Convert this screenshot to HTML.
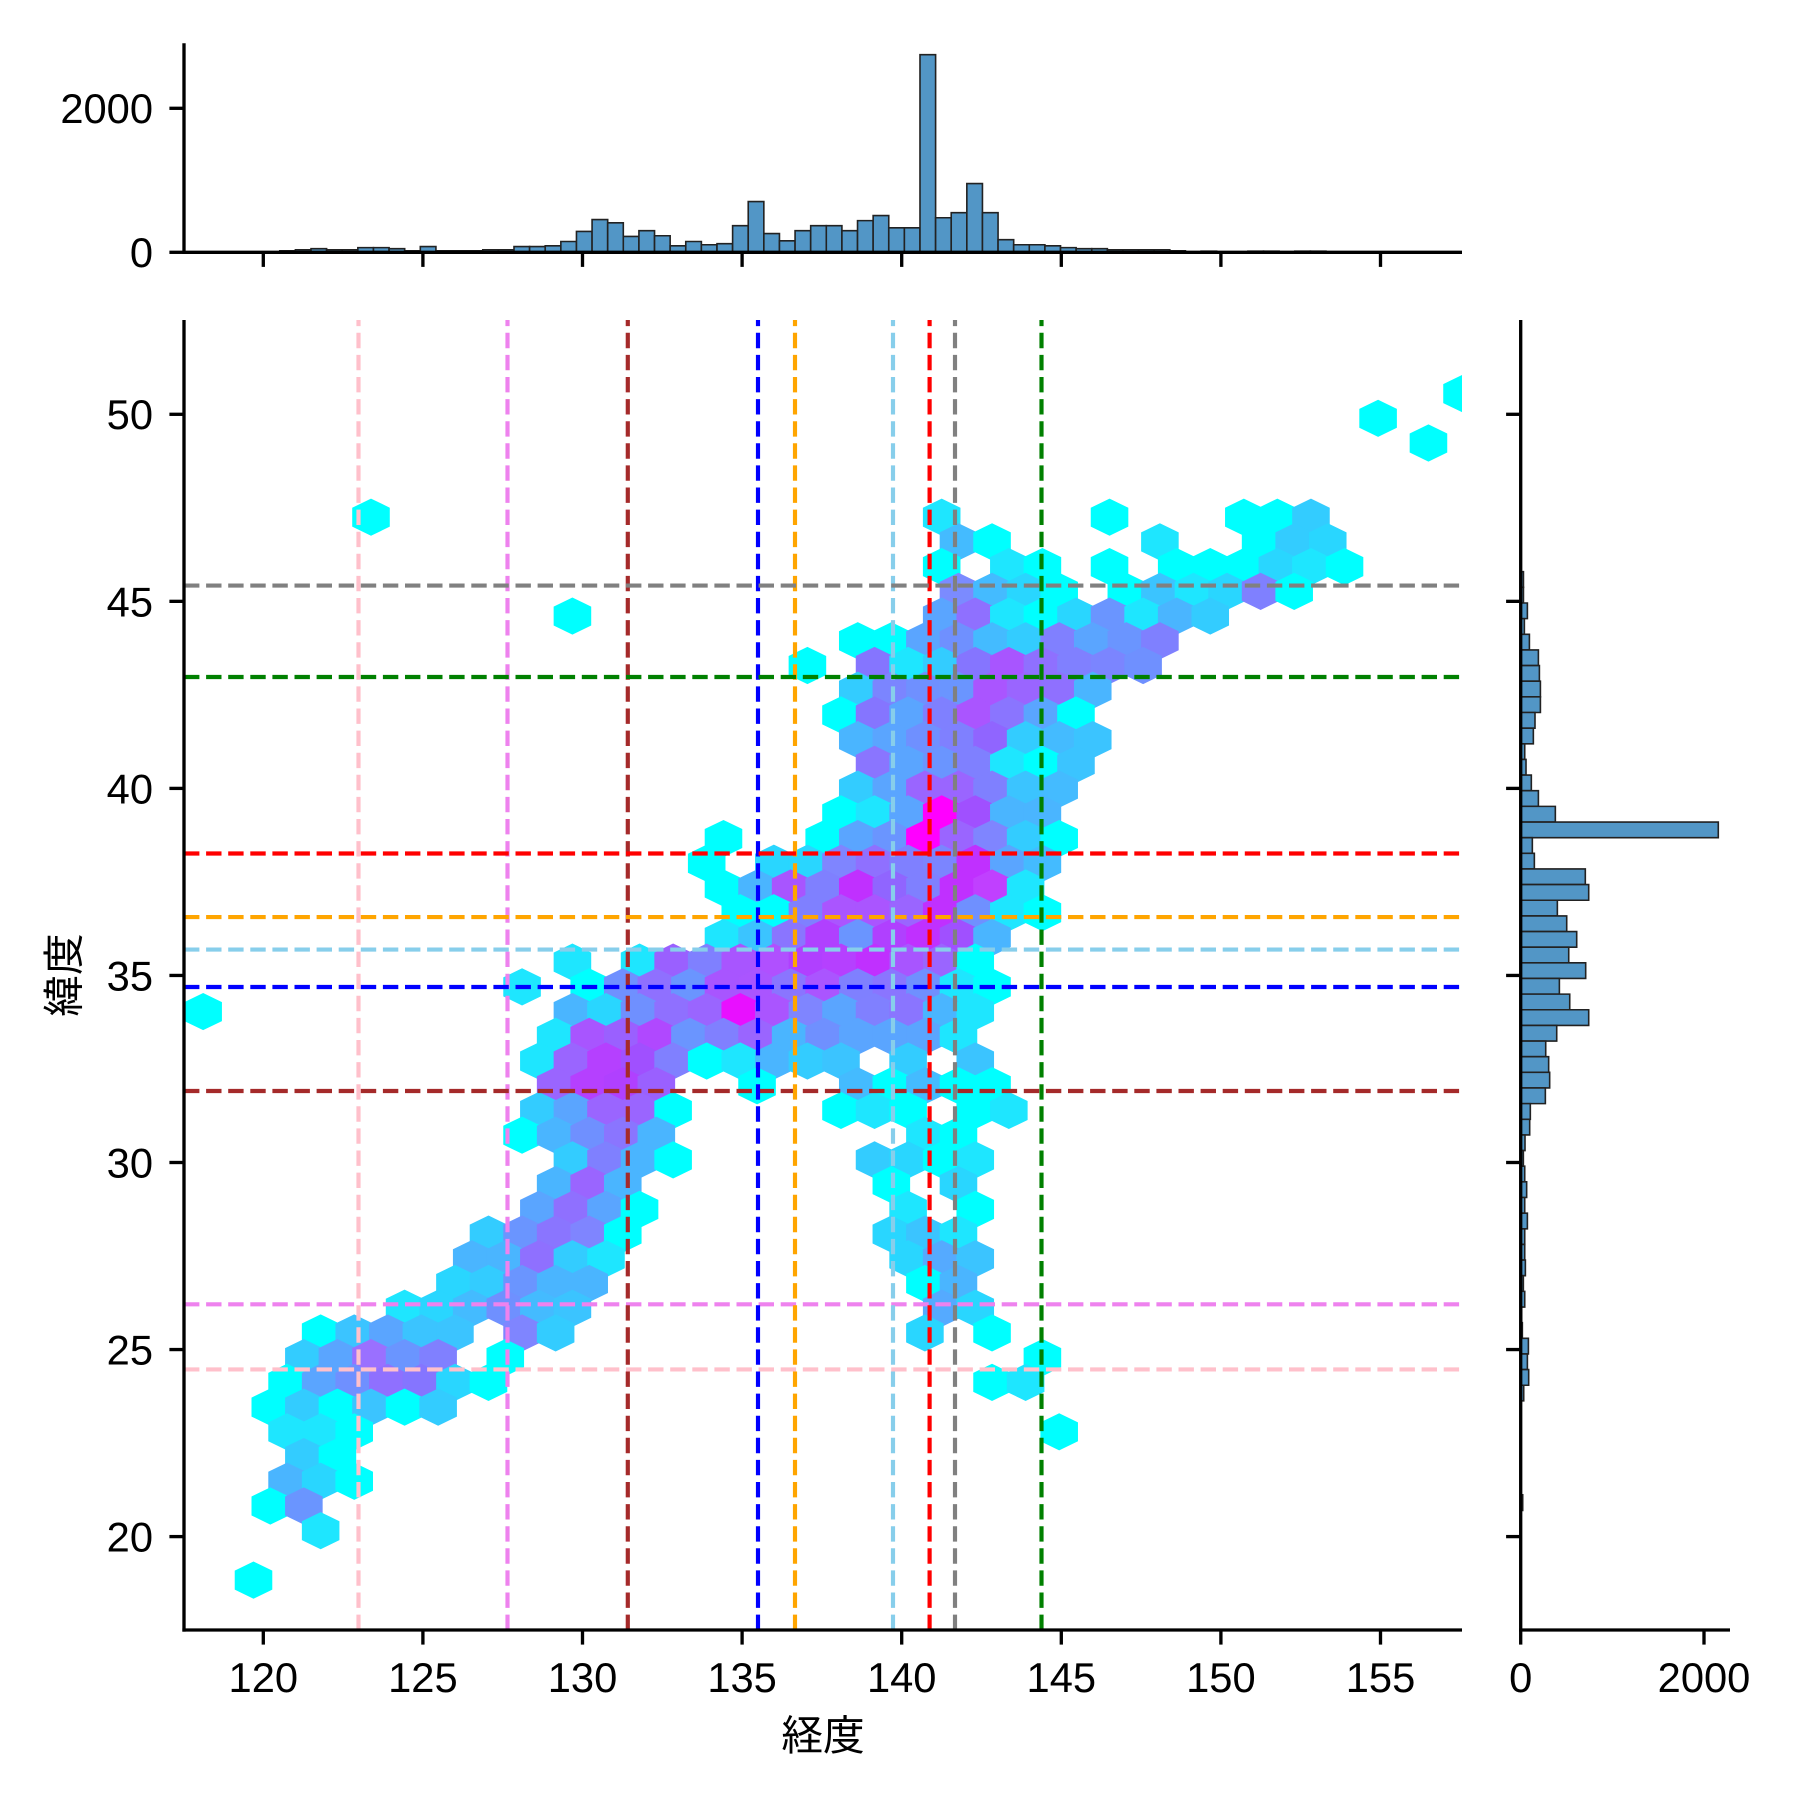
<!DOCTYPE html>
<html><head><meta charset="utf-8">
<style>
html,body{margin:0;padding:0;background:#fff}
svg{display:block}
text{font-family:"Liberation Sans","Noto Sans CJK JP",sans-serif;font-size:41.67px;fill:#000}
.hb rect{fill:#5296c6;stroke:#222;stroke-width:1.6px;vector-effect:non-scaling-stroke}
</style></head>
<body>
<svg width="1800" height="1800" viewBox="0 0 1800 1800" xmlns="http://www.w3.org/2000/svg">
<defs>
<polygon id="h" points="0,-0.7524 1.1192,-0.3837 1.1192,0.3837 0,0.7524 -1.1192,0.3837 -1.1192,-0.3837"/>
<clipPath id="cj"><rect x="184" y="320" width="1278" height="1310"/></clipPath>
</defs>
<rect width="1800" height="1800" fill="#fff"/>

<!-- HEXBIN -->
<g clip-path="url(#cj)"><g transform="translate(1378.1 418.3) scale(16.785 24.72)">
<use href="#h" x="5" y="-1" fill="#00ffff"/>
<use href="#h" x="0" y="0" fill="#00ffff"/>
<use href="#h" x="3" y="1" fill="#00ffff"/>
<!-- j4 -->
<use href="#h" x="-60" y="4" fill="#00ffff"/><use href="#h" x="-26" y="4" fill="#1ee6ff"/><use href="#h" x="-16" y="4" fill="#00ffff"/><use href="#h" x="-8" y="4" fill="#00ffff"/><use href="#h" x="-6" y="4" fill="#00ffff"/><use href="#h" x="-4" y="4" fill="#33ccff"/>
<!-- j5 -->
<use href="#h" x="-25" y="5" fill="#44bbff"/><use href="#h" x="-23" y="5" fill="#00ffff"/><use href="#h" x="-13" y="5" fill="#1ee6ff"/><use href="#h" x="-7" y="5" fill="#00ffff"/><use href="#h" x="-5" y="5" fill="#33ccff"/><use href="#h" x="-3" y="5" fill="#29d6ff"/>
<!-- j6 -->
<use href="#h" x="-26" y="6" fill="#00ffff"/><use href="#h" x="-22" y="6" fill="#1ee6ff"/><use href="#h" x="-20" y="6" fill="#00ffff"/><use href="#h" x="-16" y="6" fill="#00ffff"/><use href="#h" x="-12" y="6" fill="#00ffff"/><use href="#h" x="-10" y="6" fill="#00ffff"/><use href="#h" x="-8" y="6" fill="#00ffff"/><use href="#h" x="-6" y="6" fill="#29d6ff"/><use href="#h" x="-4" y="6" fill="#1ee6ff"/><use href="#h" x="-2" y="6" fill="#00ffff"/>
<!-- j7 -->
<use href="#h" x="-25" y="7" fill="#7b8bff"/><use href="#h" x="-23" y="7" fill="#44bbff"/><use href="#h" x="-21" y="7" fill="#29d6ff"/><use href="#h" x="-19" y="7" fill="#00ffff"/><use href="#h" x="-15" y="7" fill="#00ffff"/><use href="#h" x="-13" y="7" fill="#3bc4ff"/><use href="#h" x="-11" y="7" fill="#1ee6ff"/><use href="#h" x="-9" y="7" fill="#29d6ff"/><use href="#h" x="-7" y="7" fill="#7f80ff"/><use href="#h" x="-5" y="7" fill="#00ffff"/>
<!-- j8 -->
<use href="#h" x="-48" y="8" fill="#00ffff"/><use href="#h" x="-26" y="8" fill="#5aa5ff"/><use href="#h" x="-24" y="8" fill="#8f70ff"/><use href="#h" x="-22" y="8" fill="#1ee6ff"/><use href="#h" x="-20" y="8" fill="#00ffff"/><use href="#h" x="-18" y="8" fill="#29d6ff"/><use href="#h" x="-16" y="8" fill="#6a95ff"/><use href="#h" x="-14" y="8" fill="#1ee6ff"/><use href="#h" x="-12" y="8" fill="#4ab5ff"/><use href="#h" x="-10" y="8" fill="#33ccff"/>
<!-- j9 -->
<use href="#h" x="-31" y="9" fill="#00ffff"/><use href="#h" x="-29" y="9" fill="#00ffff"/><use href="#h" x="-27" y="9" fill="#5aa5ff"/><use href="#h" x="-25" y="9" fill="#6f90ff"/><use href="#h" x="-23" y="9" fill="#44bbff"/><use href="#h" x="-21" y="9" fill="#33ccff"/><use href="#h" x="-19" y="9" fill="#8080ff"/><use href="#h" x="-17" y="9" fill="#5aa5ff"/><use href="#h" x="-15" y="9" fill="#6a95ff"/><use href="#h" x="-13" y="9" fill="#7f80ff"/>
<!-- j10 -->
<use href="#h" x="-34" y="10" fill="#00ffff"/><use href="#h" x="-30" y="10" fill="#8575ff"/><use href="#h" x="-28" y="10" fill="#1ee6ff"/><use href="#h" x="-26" y="10" fill="#33ccff"/><use href="#h" x="-24" y="10" fill="#8575ff"/><use href="#h" x="-22" y="10" fill="#a855ff"/><use href="#h" x="-20" y="10" fill="#8f70ff"/><use href="#h" x="-18" y="10" fill="#8080ff"/><use href="#h" x="-16" y="10" fill="#7b85ff"/><use href="#h" x="-14" y="10" fill="#6f90ff"/>
<!-- j11 -->
<use href="#h" x="-31" y="11" fill="#33ccff"/><use href="#h" x="-29" y="11" fill="#7b85ff"/><use href="#h" x="-27" y="11" fill="#6f90ff"/><use href="#h" x="-25" y="11" fill="#6a95ff"/><use href="#h" x="-23" y="11" fill="#aa55ff"/><use href="#h" x="-21" y="11" fill="#9a65ff"/><use href="#h" x="-19" y="11" fill="#8f70ff"/><use href="#h" x="-17" y="11" fill="#4ab5ff"/>
<!-- j12 -->
<use href="#h" x="-32" y="12" fill="#00ffff"/><use href="#h" x="-30" y="12" fill="#8575ff"/><use href="#h" x="-28" y="12" fill="#5aa5ff"/><use href="#h" x="-26" y="12" fill="#7f80ff"/><use href="#h" x="-24" y="12" fill="#aa55ff"/><use href="#h" x="-22" y="12" fill="#8a75ff"/><use href="#h" x="-20" y="12" fill="#5aa5ff"/><use href="#h" x="-18" y="12" fill="#00ffff"/>
<!-- j13 -->
<use href="#h" x="-31" y="13" fill="#4ab5ff"/><use href="#h" x="-29" y="13" fill="#5aa5ff"/><use href="#h" x="-27" y="13" fill="#6f90ff"/><use href="#h" x="-25" y="13" fill="#7f80ff"/><use href="#h" x="-23" y="13" fill="#9065ff"/><use href="#h" x="-21" y="13" fill="#33ccff"/><use href="#h" x="-19" y="13" fill="#44bbff"/><use href="#h" x="-17" y="13" fill="#3bc4ff"/>
<!-- j14 -->
<use href="#h" x="-30" y="14" fill="#8a75ff"/><use href="#h" x="-28" y="14" fill="#5aa5ff"/><use href="#h" x="-26" y="14" fill="#6a95ff"/><use href="#h" x="-24" y="14" fill="#7f80ff"/><use href="#h" x="-22" y="14" fill="#1ee6ff"/><use href="#h" x="-20" y="14" fill="#00ffff"/><use href="#h" x="-18" y="14" fill="#3bc4ff"/>
<!-- j15 -->
<use href="#h" x="-31" y="15" fill="#33ccff"/><use href="#h" x="-29" y="15" fill="#5aa5ff"/><use href="#h" x="-27" y="15" fill="#9a65ff"/><use href="#h" x="-25" y="15" fill="#9a65ff"/><use href="#h" x="-23" y="15" fill="#7f80ff"/><use href="#h" x="-21" y="15" fill="#3bc4ff"/><use href="#h" x="-19" y="15" fill="#44bbff"/>
<!-- j16 -->
<use href="#h" x="-32" y="16" fill="#00ffff"/><use href="#h" x="-30" y="16" fill="#1ee6ff"/><use href="#h" x="-28" y="16" fill="#5aa5ff"/><use href="#h" x="-26" y="16" fill="#ff00ff"/><use href="#h" x="-24" y="16" fill="#a050ff"/><use href="#h" x="-22" y="16" fill="#4ab5ff"/><use href="#h" x="-20" y="16" fill="#4ab5ff"/>
<!-- j17 -->
<use href="#h" x="-39" y="17" fill="#00ffff"/><use href="#h" x="-33" y="17" fill="#00ffff"/><use href="#h" x="-31" y="17" fill="#5aa5ff"/><use href="#h" x="-29" y="17" fill="#6a95ff"/><use href="#h" x="-27" y="17" fill="#ff00ff"/><use href="#h" x="-25" y="17" fill="#9a65ff"/><use href="#h" x="-23" y="17" fill="#7f85ff"/><use href="#h" x="-21" y="17" fill="#33ccff"/><use href="#h" x="-19" y="17" fill="#00ffff"/>
<!-- j18 -->
<use href="#h" x="-40" y="18" fill="#00ffff"/><use href="#h" x="-36" y="18" fill="#29d6ff"/><use href="#h" x="-34" y="18" fill="#29d6ff"/><use href="#h" x="-32" y="18" fill="#7f85ff"/><use href="#h" x="-30" y="18" fill="#8f70ff"/><use href="#h" x="-28" y="18" fill="#7f80ff"/><use href="#h" x="-26" y="18" fill="#7b85ff"/><use href="#h" x="-24" y="18" fill="#c030ff"/><use href="#h" x="-22" y="18" fill="#5aa5ff"/><use href="#h" x="-20" y="18" fill="#44bbff"/>
<!-- j19 -->
<use href="#h" x="-39" y="19" fill="#00ffff"/><use href="#h" x="-37" y="19" fill="#4ab5ff"/><use href="#h" x="-35" y="19" fill="#a855ff"/><use href="#h" x="-33" y="19" fill="#7f80ff"/><use href="#h" x="-31" y="19" fill="#c030ff"/><use href="#h" x="-29" y="19" fill="#9065ff"/><use href="#h" x="-27" y="19" fill="#7f80ff"/><use href="#h" x="-25" y="19" fill="#c030ff"/><use href="#h" x="-23" y="19" fill="#c040ff"/><use href="#h" x="-21" y="19" fill="#1ee6ff"/>
<!-- j20 -->
<use href="#h" x="-38" y="20" fill="#00ffff"/><use href="#h" x="-36" y="20" fill="#00ffff"/><use href="#h" x="-34" y="20" fill="#7f80ff"/><use href="#h" x="-32" y="20" fill="#aa55ff"/><use href="#h" x="-30" y="20" fill="#aa55ff"/><use href="#h" x="-28" y="20" fill="#9a65ff"/><use href="#h" x="-26" y="20" fill="#c030ff"/><use href="#h" x="-24" y="20" fill="#6f90ff"/><use href="#h" x="-22" y="20" fill="#1ee6ff"/><use href="#h" x="-20" y="20" fill="#00ffff"/>
<!-- j21 -->
<use href="#h" x="-39" y="21" fill="#1ee6ff"/><use href="#h" x="-37" y="21" fill="#3bc4ff"/><use href="#h" x="-35" y="21" fill="#8a75ff"/><use href="#h" x="-33" y="21" fill="#b040ff"/><use href="#h" x="-31" y="21" fill="#6a95ff"/><use href="#h" x="-29" y="21" fill="#b040ff"/><use href="#h" x="-27" y="21" fill="#c030ff"/><use href="#h" x="-25" y="21" fill="#a050ff"/><use href="#h" x="-23" y="21" fill="#4ab5ff"/>
<!-- j22 -->
<use href="#h" x="-48" y="22" fill="#1ee6ff"/><use href="#h" x="-44" y="22" fill="#1ee6ff"/><use href="#h" x="-42" y="22" fill="#9a60ff"/><use href="#h" x="-40" y="22" fill="#7f80ff"/><use href="#h" x="-38" y="22" fill="#a855ff"/><use href="#h" x="-36" y="22" fill="#b050ff"/><use href="#h" x="-34" y="22" fill="#b040ff"/><use href="#h" x="-32" y="22" fill="#b540ff"/><use href="#h" x="-30" y="22" fill="#c030ff"/><use href="#h" x="-28" y="22" fill="#a855ff"/><use href="#h" x="-26" y="22" fill="#9a65ff"/><use href="#h" x="-24" y="22" fill="#00ffff"/>
<!-- j23 -->
<use href="#h" x="-51" y="23" fill="#1ee6ff"/><use href="#h" x="-47" y="23" fill="#00ffff"/><use href="#h" x="-45" y="23" fill="#6f90ff"/><use href="#h" x="-43" y="23" fill="#8f70ff"/><use href="#h" x="-41" y="23" fill="#6a95ff"/><use href="#h" x="-39" y="23" fill="#a855ff"/><use href="#h" x="-37" y="23" fill="#aa55ff"/><use href="#h" x="-35" y="23" fill="#8a75ff"/><use href="#h" x="-33" y="23" fill="#aa55ff"/><use href="#h" x="-31" y="23" fill="#7f80ff"/><use href="#h" x="-29" y="23" fill="#8a75ff"/><use href="#h" x="-27" y="23" fill="#6f90ff"/><use href="#h" x="-25" y="23" fill="#1ee6ff"/><use href="#h" x="-23" y="23" fill="#00ffff"/>
<!-- j24 -->
<use href="#h" x="-70" y="24" fill="#00ffff"/><use href="#h" x="-48" y="24" fill="#4ab5ff"/><use href="#h" x="-46" y="24" fill="#29d6ff"/><use href="#h" x="-44" y="24" fill="#6f90ff"/><use href="#h" x="-42" y="24" fill="#8f70ff"/><use href="#h" x="-40" y="24" fill="#9a65ff"/><use href="#h" x="-38" y="24" fill="#e810ff"/><use href="#h" x="-36" y="24" fill="#aa55ff"/><use href="#h" x="-34" y="24" fill="#7f85ff"/><use href="#h" x="-32" y="24" fill="#5aa5ff"/><use href="#h" x="-30" y="24" fill="#8080ff"/><use href="#h" x="-28" y="24" fill="#8a75ff"/><use href="#h" x="-26" y="24" fill="#4ab5ff"/><use href="#h" x="-24" y="24" fill="#1ee6ff"/>
<!-- j25 -->
<use href="#h" x="-49" y="25" fill="#1ee6ff"/><use href="#h" x="-47" y="25" fill="#a855ff"/><use href="#h" x="-45" y="25" fill="#9a60ff"/><use href="#h" x="-43" y="25" fill="#b048ff"/><use href="#h" x="-41" y="25" fill="#6a95ff"/><use href="#h" x="-39" y="25" fill="#8080ff"/><use href="#h" x="-37" y="25" fill="#9a65ff"/><use href="#h" x="-35" y="25" fill="#4ab5ff"/><use href="#h" x="-33" y="25" fill="#6f90ff"/><use href="#h" x="-31" y="25" fill="#5aa5ff"/><use href="#h" x="-29" y="25" fill="#5aa5ff"/><use href="#h" x="-27" y="25" fill="#5aa5ff"/><use href="#h" x="-25" y="25" fill="#1ee6ff"/>
<!-- j26 -->
<use href="#h" x="-50" y="26" fill="#1ee6ff"/><use href="#h" x="-48" y="26" fill="#9a65ff"/><use href="#h" x="-46" y="26" fill="#b540ff"/><use href="#h" x="-44" y="26" fill="#a050ff"/><use href="#h" x="-42" y="26" fill="#8080ff"/><use href="#h" x="-40" y="26" fill="#00ffff"/><use href="#h" x="-38" y="26" fill="#1ee6ff"/><use href="#h" x="-36" y="26" fill="#4ab5ff"/><use href="#h" x="-34" y="26" fill="#33ccff"/><use href="#h" x="-32" y="26" fill="#3bc4ff"/><use href="#h" x="-28" y="26" fill="#33ccff"/><use href="#h" x="-24" y="26" fill="#3bc4ff"/>
<!-- j27 -->
<use href="#h" x="-49" y="27" fill="#9a65ff"/><use href="#h" x="-47" y="27" fill="#b540ff"/><use href="#h" x="-45" y="27" fill="#b040ff"/><use href="#h" x="-43" y="27" fill="#9a60ff"/><use href="#h" x="-37" y="27" fill="#00ffff"/><use href="#h" x="-31" y="27" fill="#44bbff"/><use href="#h" x="-29" y="27" fill="#00ffff"/><use href="#h" x="-27" y="27" fill="#44bbff"/><use href="#h" x="-25" y="27" fill="#00ffff"/><use href="#h" x="-23" y="27" fill="#00ffff"/>
<!-- j28 -->
<use href="#h" x="-50" y="28" fill="#33ccff"/><use href="#h" x="-48" y="28" fill="#5aa5ff"/><use href="#h" x="-46" y="28" fill="#9a65ff"/><use href="#h" x="-44" y="28" fill="#9a65ff"/><use href="#h" x="-42" y="28" fill="#00ffff"/><use href="#h" x="-32" y="28" fill="#00ffff"/><use href="#h" x="-30" y="28" fill="#1ee6ff"/><use href="#h" x="-28" y="28" fill="#00ffff"/><use href="#h" x="-24" y="28" fill="#00ffff"/><use href="#h" x="-22" y="28" fill="#1ee6ff"/>
<!-- j29 -->
<use href="#h" x="-51" y="29" fill="#00ffff"/><use href="#h" x="-49" y="29" fill="#4ab5ff"/><use href="#h" x="-47" y="29" fill="#6f90ff"/><use href="#h" x="-45" y="29" fill="#8a75ff"/><use href="#h" x="-43" y="29" fill="#4ab5ff"/><use href="#h" x="-27" y="29" fill="#1ee6ff"/><use href="#h" x="-25" y="29" fill="#00ffff"/>
<!-- j30 -->
<use href="#h" x="-48" y="30" fill="#33ccff"/><use href="#h" x="-46" y="30" fill="#7f80ff"/><use href="#h" x="-44" y="30" fill="#4ab5ff"/><use href="#h" x="-42" y="30" fill="#00ffff"/><use href="#h" x="-30" y="30" fill="#33ccff"/><use href="#h" x="-28" y="30" fill="#29d6ff"/><use href="#h" x="-26" y="30" fill="#00ffff"/><use href="#h" x="-24" y="30" fill="#1ee6ff"/>
<!-- j31 -->
<use href="#h" x="-49" y="31" fill="#4ab5ff"/><use href="#h" x="-47" y="31" fill="#9a65ff"/><use href="#h" x="-45" y="31" fill="#4ab5ff"/><use href="#h" x="-29" y="31" fill="#00ffff"/><use href="#h" x="-25" y="31" fill="#29d6ff"/>
<!-- j32 -->
<use href="#h" x="-50" y="32" fill="#5aa5ff"/><use href="#h" x="-48" y="32" fill="#8f70ff"/><use href="#h" x="-46" y="32" fill="#5aa5ff"/><use href="#h" x="-44" y="32" fill="#00ffff"/><use href="#h" x="-28" y="32" fill="#1ee6ff"/><use href="#h" x="-24" y="32" fill="#00ffff"/>
<!-- j33 -->
<use href="#h" x="-53" y="33" fill="#33ccff"/><use href="#h" x="-51" y="33" fill="#6a95ff"/><use href="#h" x="-49" y="33" fill="#8a75ff"/><use href="#h" x="-47" y="33" fill="#7f85ff"/><use href="#h" x="-45" y="33" fill="#00ffff"/><use href="#h" x="-29" y="33" fill="#29d6ff"/><use href="#h" x="-27" y="33" fill="#3bc4ff"/><use href="#h" x="-25" y="33" fill="#1ee6ff"/>
<!-- j34 -->
<use href="#h" x="-54" y="34" fill="#4ab5ff"/><use href="#h" x="-52" y="34" fill="#4ab5ff"/><use href="#h" x="-50" y="34" fill="#8f70ff"/><use href="#h" x="-48" y="34" fill="#33ccff"/><use href="#h" x="-46" y="34" fill="#1ee6ff"/><use href="#h" x="-28" y="34" fill="#29d6ff"/><use href="#h" x="-26" y="34" fill="#55aaff"/><use href="#h" x="-24" y="34" fill="#3bc4ff"/>
<!-- j35 -->
<use href="#h" x="-55" y="35" fill="#29d6ff"/><use href="#h" x="-53" y="35" fill="#33ccff"/><use href="#h" x="-51" y="35" fill="#6a95ff"/><use href="#h" x="-49" y="35" fill="#4ab5ff"/><use href="#h" x="-47" y="35" fill="#4ab5ff"/><use href="#h" x="-27" y="35" fill="#00ffff"/><use href="#h" x="-25" y="35" fill="#4ab5ff"/>
<!-- j36 -->
<use href="#h" x="-58" y="36" fill="#1ee6ff"/><use href="#h" x="-56" y="36" fill="#29d6ff"/><use href="#h" x="-54" y="36" fill="#44bbff"/><use href="#h" x="-52" y="36" fill="#6f90ff"/><use href="#h" x="-50" y="36" fill="#44bbff"/><use href="#h" x="-48" y="36" fill="#3bc4ff"/><use href="#h" x="-26" y="36" fill="#55aaff"/><use href="#h" x="-24" y="36" fill="#29d6ff"/>
<!-- j37 -->
<use href="#h" x="-63" y="37" fill="#00ffff"/><use href="#h" x="-61" y="37" fill="#3bc4ff"/><use href="#h" x="-59" y="37" fill="#5aa5ff"/><use href="#h" x="-57" y="37" fill="#3bc4ff"/><use href="#h" x="-55" y="37" fill="#3bc4ff"/><use href="#h" x="-51" y="37" fill="#7f85ff"/><use href="#h" x="-49" y="37" fill="#33ccff"/><use href="#h" x="-27" y="37" fill="#29d6ff"/><use href="#h" x="-23" y="37" fill="#00ffff"/>
<!-- j38 -->
<use href="#h" x="-64" y="38" fill="#33ccff"/><use href="#h" x="-62" y="38" fill="#5aa5ff"/><use href="#h" x="-60" y="38" fill="#9a70ff"/><use href="#h" x="-58" y="38" fill="#6a95ff"/><use href="#h" x="-56" y="38" fill="#8080ff"/><use href="#h" x="-52" y="38" fill="#00ffff"/><use href="#h" x="-20" y="38" fill="#00ffff"/>
<!-- j39 -->
<use href="#h" x="-65" y="39" fill="#00ffff"/><use href="#h" x="-63" y="39" fill="#5aa5ff"/><use href="#h" x="-61" y="39" fill="#6f90ff"/><use href="#h" x="-59" y="39" fill="#8f70ff"/><use href="#h" x="-57" y="39" fill="#8575ff"/><use href="#h" x="-55" y="39" fill="#29d6ff"/><use href="#h" x="-53" y="39" fill="#00ffff"/><use href="#h" x="-23" y="39" fill="#00ffff"/><use href="#h" x="-21" y="39" fill="#1ee6ff"/>
<!-- j40 -->
<use href="#h" x="-66" y="40" fill="#00ffff"/><use href="#h" x="-64" y="40" fill="#33ccff"/><use href="#h" x="-62" y="40" fill="#00ffff"/><use href="#h" x="-60" y="40" fill="#3bc4ff"/><use href="#h" x="-58" y="40" fill="#00ffff"/><use href="#h" x="-56" y="40" fill="#33ccff"/>
<!-- j41-47 -->
<use href="#h" x="-65" y="41" fill="#1ee6ff"/><use href="#h" x="-63" y="41" fill="#1ee6ff"/><use href="#h" x="-61" y="41" fill="#00ffff"/><use href="#h" x="-19" y="41" fill="#00ffff"/>
<use href="#h" x="-64" y="42" fill="#33ccff"/><use href="#h" x="-62" y="42" fill="#00ffff"/>
<use href="#h" x="-65" y="43" fill="#4ab5ff"/><use href="#h" x="-63" y="43" fill="#29d6ff"/><use href="#h" x="-61" y="43" fill="#00ffff"/>
<use href="#h" x="-66" y="44" fill="#00ffff"/><use href="#h" x="-64" y="44" fill="#6a95ff"/>
<use href="#h" x="-63" y="45" fill="#1ee6ff"/>
<use href="#h" x="-67" y="47" fill="#00ffff"/>
</g></g>

<!-- DASHED REFERENCE LINES -->
<g stroke-width="4.17" stroke-dasharray="15.4 6.7" fill="none">
<line x1="358.5" y1="1630" x2="358.5" y2="320" stroke="#ffc0cb"/>
<line x1="184" y1="1369.4" x2="1462" y2="1369.4" stroke="#ffc0cb"/>
<line x1="507.5" y1="1630" x2="507.5" y2="320" stroke="#ee82ee"/>
<line x1="184" y1="1304.3" x2="1462" y2="1304.3" stroke="#ee82ee"/>
<line x1="627.8" y1="1630" x2="627.8" y2="320" stroke="#a52a2a"/>
<line x1="184" y1="1091" x2="1462" y2="1091" stroke="#a52a2a"/>
<line x1="758" y1="1630" x2="758" y2="320" stroke="#0000ff"/>
<line x1="184" y1="987" x2="1462" y2="987" stroke="#0000ff"/>
<line x1="795" y1="1630" x2="795" y2="320" stroke="#ffa500"/>
<line x1="184" y1="917.1" x2="1462" y2="917.1" stroke="#ffa500"/>
<line x1="893" y1="1630" x2="893" y2="320" stroke="#87ceeb"/>
<line x1="184" y1="949.6" x2="1462" y2="949.6" stroke="#87ceeb"/>
<line x1="929.6" y1="1630" x2="929.6" y2="320" stroke="#ff0000"/>
<line x1="184" y1="853.5" x2="1462" y2="853.5" stroke="#ff0000"/>
<line x1="955" y1="1630" x2="955" y2="320" stroke="#808080"/>
<line x1="184" y1="585.6" x2="1462" y2="585.6" stroke="#808080"/>
<line x1="1041.5" y1="1630" x2="1041.5" y2="320" stroke="#008000"/>
<line x1="184" y1="677" x2="1462" y2="677" stroke="#008000"/>
</g>

<!-- TOP HISTOGRAM -->
<g class="hb" transform="translate(201.7 252.3) scale(15.615 -0.072)">
<rect x="5" y="0" width="1" height="20"/><rect x="6" y="0" width="1" height="35"/><rect x="7" y="0" width="1" height="50"/><rect x="8" y="0" width="1" height="35"/><rect x="9" y="0" width="1" height="35"/><rect x="10" y="0" width="1" height="65"/><rect x="11" y="0" width="1" height="65"/><rect x="12" y="0" width="1" height="50"/><rect x="13" y="0" width="1" height="20"/><rect x="14" y="0" width="1" height="80"/><rect x="15" y="0" width="1" height="20"/><rect x="16" y="0" width="1" height="20"/><rect x="17" y="0" width="1" height="20"/><rect x="18" y="0" width="1" height="35"/><rect x="19" y="0" width="1" height="35"/><rect x="20" y="0" width="1" height="80"/><rect x="21" y="0" width="1" height="80"/><rect x="22" y="0" width="1" height="90"/><rect x="23" y="0" width="1" height="150"/><rect x="24" y="0" width="1" height="290"/><rect x="25" y="0" width="1" height="455"/><rect x="26" y="0" width="1" height="410"/><rect x="27" y="0" width="1" height="220"/><rect x="28" y="0" width="1" height="300"/><rect x="29" y="0" width="1" height="230"/><rect x="30" y="0" width="1" height="90"/><rect x="31" y="0" width="1" height="150"/><rect x="32" y="0" width="1" height="105"/><rect x="33" y="0" width="1" height="120"/><rect x="34" y="0" width="1" height="370"/><rect x="35" y="0" width="1" height="705"/><rect x="36" y="0" width="1" height="260"/><rect x="37" y="0" width="1" height="160"/><rect x="38" y="0" width="1" height="300"/><rect x="39" y="0" width="1" height="370"/><rect x="40" y="0" width="1" height="370"/><rect x="41" y="0" width="1" height="300"/><rect x="42" y="0" width="1" height="440"/><rect x="43" y="0" width="1" height="510"/><rect x="44" y="0" width="1" height="340"/><rect x="45" y="0" width="1" height="340"/><rect x="46" y="0" width="1" height="2745"/><rect x="47" y="0" width="1" height="480"/><rect x="48" y="0" width="1" height="550"/><rect x="49" y="0" width="1" height="955"/><rect x="50" y="0" width="1" height="550"/><rect x="51" y="0" width="1" height="175"/><rect x="52" y="0" width="1" height="105"/><rect x="53" y="0" width="1" height="105"/><rect x="54" y="0" width="1" height="90"/><rect x="55" y="0" width="1" height="65"/><rect x="56" y="0" width="1" height="50"/><rect x="57" y="0" width="1" height="50"/><rect x="58" y="0" width="1" height="35"/><rect x="59" y="0" width="1" height="35"/><rect x="60" y="0" width="1" height="35"/><rect x="61" y="0" width="1" height="35"/><rect x="62" y="0" width="1" height="20"/><rect x="64" y="0" width="1" height="15"/><rect x="67" y="0" width="1" height="15"/><rect x="68" y="0" width="1" height="15"/><rect x="70" y="0" width="1" height="15"/><rect x="71" y="0" width="1" height="15"/>
</g>

<!-- RIGHT HISTOGRAM -->
<g class="hb" transform="translate(1520.7 571.7) scale(0.09165 15.645)">
<rect x="0" y="0" width="30" height="1"/><rect x="0" y="1" width="30" height="1"/><rect x="0" y="2" width="73" height="1"/><rect x="0" y="3" width="40" height="1"/><rect x="0" y="4" width="95" height="1"/><rect x="0" y="5" width="193" height="1"/><rect x="0" y="6" width="204" height="1"/><rect x="0" y="7" width="215" height="1"/><rect x="0" y="8" width="215" height="1"/><rect x="0" y="9" width="156" height="1"/><rect x="0" y="10" width="138" height="1"/><rect x="0" y="11" width="44" height="1"/><rect x="0" y="12" width="58" height="1"/><rect x="0" y="13" width="116" height="1"/><rect x="0" y="14" width="193" height="1"/><rect x="0" y="15" width="378" height="1"/><rect x="0" y="16" width="2156" height="1"/><rect x="0" y="17" width="127" height="1"/><rect x="0" y="18" width="149" height="1"/><rect x="0" y="19" width="705" height="1"/><rect x="0" y="20" width="742" height="1"/><rect x="0" y="21" width="400" height="1"/><rect x="0" y="22" width="502" height="1"/><rect x="0" y="23" width="611" height="1"/><rect x="0" y="24" width="524" height="1"/><rect x="0" y="25" width="709" height="1"/><rect x="0" y="26" width="422" height="1"/><rect x="0" y="27" width="535" height="1"/><rect x="0" y="28" width="742" height="1"/><rect x="0" y="29" width="393" height="1"/><rect x="0" y="30" width="273" height="1"/><rect x="0" y="31" width="305" height="1"/><rect x="0" y="32" width="316" height="1"/><rect x="0" y="33" width="269" height="1"/><rect x="0" y="34" width="105" height="1"/><rect x="0" y="35" width="98" height="1"/><rect x="0" y="36" width="47" height="1"/><rect x="0" y="37" width="29" height="1"/><rect x="0" y="38" width="44" height="1"/><rect x="0" y="39" width="65" height="1"/><rect x="0" y="40" width="44" height="1"/><rect x="0" y="41" width="73" height="1"/><rect x="0" y="42" width="44" height="1"/><rect x="0" y="43" width="44" height="1"/><rect x="0" y="44" width="51" height="1"/><rect x="0" y="45" width="29" height="1"/><rect x="0" y="46" width="44" height="1"/><rect x="0" y="47" width="11" height="1"/><rect x="0" y="48" width="18" height="1"/><rect x="0" y="49" width="84" height="1"/><rect x="0" y="50" width="73" height="1"/><rect x="0" y="51" width="87" height="1"/><rect x="0" y="52" width="33" height="1"/><rect x="0" y="59" width="22" height="1"/>
</g>

<!-- SPINES & TICKS -->
<g stroke="#000" stroke-width="3.33" fill="none">
<!-- main -->
<line x1="184" y1="320" x2="184" y2="1631.6"/>
<line x1="182.4" y1="1630" x2="1462" y2="1630"/>
<line x1="263.3" y1="1630" x2="263.3" y2="1644.6"/><line x1="422.9" y1="1630" x2="422.9" y2="1644.6"/><line x1="582.5" y1="1630" x2="582.5" y2="1644.6"/><line x1="742.1" y1="1630" x2="742.1" y2="1644.6"/><line x1="901.7" y1="1630" x2="901.7" y2="1644.6"/><line x1="1061.3" y1="1630" x2="1061.3" y2="1644.6"/><line x1="1220.9" y1="1630" x2="1220.9" y2="1644.6"/><line x1="1380.5" y1="1630" x2="1380.5" y2="1644.6"/>
<line x1="169.4" y1="414.3" x2="184" y2="414.3"/><line x1="169.4" y1="601.35" x2="184" y2="601.35"/><line x1="169.4" y1="788.4" x2="184" y2="788.4"/><line x1="169.4" y1="975.45" x2="184" y2="975.45"/><line x1="169.4" y1="1162.5" x2="184" y2="1162.5"/><line x1="169.4" y1="1349.55" x2="184" y2="1349.55"/><line x1="169.4" y1="1536.6" x2="184" y2="1536.6"/>
<!-- top hist -->
<line x1="184" y1="43.3" x2="184" y2="253.9"/>
<line x1="182.4" y1="252.3" x2="1462" y2="252.3"/>
<line x1="169.4" y1="252.3" x2="184" y2="252.3"/><line x1="169.4" y1="108.3" x2="184" y2="108.3"/>
<line x1="263.3" y1="252.3" x2="263.3" y2="266.9"/><line x1="422.9" y1="252.3" x2="422.9" y2="266.9"/><line x1="582.5" y1="252.3" x2="582.5" y2="266.9"/><line x1="742.1" y1="252.3" x2="742.1" y2="266.9"/><line x1="901.7" y1="252.3" x2="901.7" y2="266.9"/><line x1="1061.3" y1="252.3" x2="1061.3" y2="266.9"/><line x1="1220.9" y1="252.3" x2="1220.9" y2="266.9"/><line x1="1380.5" y1="252.3" x2="1380.5" y2="266.9"/>
<!-- right hist -->
<line x1="1520.7" y1="320" x2="1520.7" y2="1631.6"/>
<line x1="1519.1" y1="1630" x2="1730" y2="1630"/>
<line x1="1520.7" y1="1630" x2="1520.7" y2="1644.6"/><line x1="1704" y1="1630" x2="1704" y2="1644.6"/>
<line x1="1506.1" y1="414.3" x2="1520.7" y2="414.3"/><line x1="1506.1" y1="601.35" x2="1520.7" y2="601.35"/><line x1="1506.1" y1="788.4" x2="1520.7" y2="788.4"/><line x1="1506.1" y1="975.45" x2="1520.7" y2="975.45"/><line x1="1506.1" y1="1162.5" x2="1520.7" y2="1162.5"/><line x1="1506.1" y1="1349.55" x2="1520.7" y2="1349.55"/><line x1="1506.1" y1="1536.6" x2="1520.7" y2="1536.6"/>
</g>

<!-- LABELS -->
<g text-anchor="end">
<text x="153" y="429.2">50</text>
<text x="153" y="616.25">45</text>
<text x="153" y="803.3">40</text>
<text x="153" y="990.35">35</text>
<text x="153" y="1177.4">30</text>
<text x="153" y="1364.45">25</text>
<text x="153" y="1551.5">20</text>
<text x="153" y="123.2">2000</text>
<text x="153" y="267.2">0</text>
</g>
<g text-anchor="middle">
<text x="263.3" y="1692">120</text>
<text x="422.9" y="1692">125</text>
<text x="582.5" y="1692">130</text>
<text x="742.1" y="1692">135</text>
<text x="901.7" y="1692">140</text>
<text x="1061.3" y="1692">145</text>
<text x="1220.9" y="1692">150</text>
<text x="1380.5" y="1692">155</text>
<text x="1520.7" y="1692">0</text>
<text x="1704" y="1692">2000</text>
<text x="823" y="1750">経度</text>
<text transform="translate(78.5 975) rotate(-90)">緯度</text>
</g>
</svg>
</body></html>
